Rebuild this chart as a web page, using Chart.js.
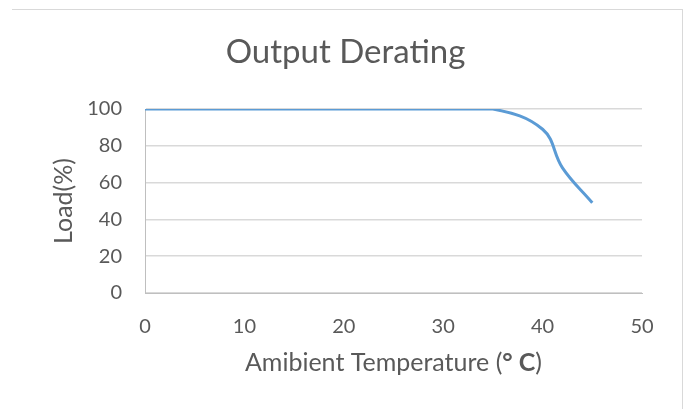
<!DOCTYPE html>
<html>
<head>
<meta charset="utf-8">
<script src="https://cdn.jsdelivr.net/npm/chart.js@4.4.1/dist/chart.umd.min.js"></script>
<style>
  html, body { margin: 0; padding: 0; background: #fff; }
  #wrap { position: relative; width: 684px; height: 409px; }
  #frame { position: absolute; left: 12px; top: 9px; width: 670px; height: 420px;
           border-top: 1px solid #d9d9d9; border-right: 1px solid #d9d9d9; }
  canvas { position: absolute; left: 0; top: 0; }
</style>
</head>
<body>
<div id="wrap">
  <div id="frame"></div>
  <canvas id="chart" width="684" height="409"></canvas>
</div>
<script>
// values
const temperature = [0, 10, 20, 30, 35, 40, 42, 45];
const load = [100, 100, 100, 100, 100, 89, 68, 49];
const xTicks = [0, 10, 20, 30, 40, 50];
const yTicks = [0, 20, 40, 60, 80, 100];

const textColor = '#595959';
const fontName = 'Lato, "Open Sans", sans-serif';

// x axis title has a bold "° C" part, so it is drawn in pieces
const xTitlePlugin = {
  id: 'xTitle',
  afterDraw(chart) {
    const ctx = chart.ctx;
    const area = chart.chartArea;
    const parts = [
      { text: 'Amibient Temperature (', bold: false },
      { text: '° C', bold: true },
      { text: ')', bold: false }
    ];
    ctx.save();
    ctx.fillStyle = textColor;
    ctx.textBaseline = 'middle';
    ctx.textAlign = 'left';
    let total = 0;
    parts.forEach(p => {
      ctx.font = (p.bold ? 'bold ' : '') + '25px ' + fontName;
      p.w = ctx.measureText(p.text).width;
      total += p.w;
    });
    let x = (area.left + area.right) / 2 - total / 2;
    const y = area.bottom + 70;
    parts.forEach(p => {
      ctx.font = (p.bold ? 'bold ' : '') + '25px ' + fontName;
      ctx.fillText(p.text, x, y);
      x += p.w;
    });
    ctx.restore();
  }
};

new Chart(document.getElementById('chart'), {
  type: 'line',
  data: {
    datasets: [{
      data: temperature.map((t, i) => ({ x: t, y: load[i] })),
      borderColor: '#5b9bd5',
      borderWidth: 3,
      pointRadius: 0,
      tension: 0.4,
      fill: false
    }]
  },
  options: {
    responsive: false,
    animation: false,
    layout: { padding: { top: 33, left: 49, right: 42, bottom: 33 } },
    plugins: {
      legend: { display: false },
      tooltip: { enabled: false },
      title: {
        display: true,
        text: 'Output Derating',
        color: textColor,
        font: { family: fontName, size: 33, weight: 'normal', lineHeight: 1.2 },
        padding: { top: 0, bottom: 36.4 }
      }
    },
    scales: {
      x: {
        type: 'linear',
        min: 0,
        max: 50,
        afterBuildTicks: s => { s.ticks = xTicks.map(v => ({ value: v })); },
        afterFit: s => { s.height = 83; },
        grid: { display: false, drawTicks: false },
        border: { display: true, color: '#bfbfbf', width: 1 },
        ticks: { color: textColor, padding: 22, font: { family: fontName, size: 20 } }
      },
      y: {
        min: 0,
        max: 100,
        afterBuildTicks: s => { s.ticks = yTicks.map(v => ({ value: v })); },
        afterFit: s => { s.width = 96; },
        grid: { color: '#d9d9d9', lineWidth: 1.5, drawTicks: false },
        border: { display: true, color: '#bfbfbf', width: 1 },
        ticks: { color: textColor, padding: 23, font: { family: fontName, size: 20 } },
        title: {
          display: true,
          text: 'Load(%)',
          color: textColor,
          padding: 0,
          font: { family: fontName, size: 25, lineHeight: 1.2 }
        }
      }
    }
  },
  plugins: [xTitlePlugin]
});
</script>
</body>
</html>
